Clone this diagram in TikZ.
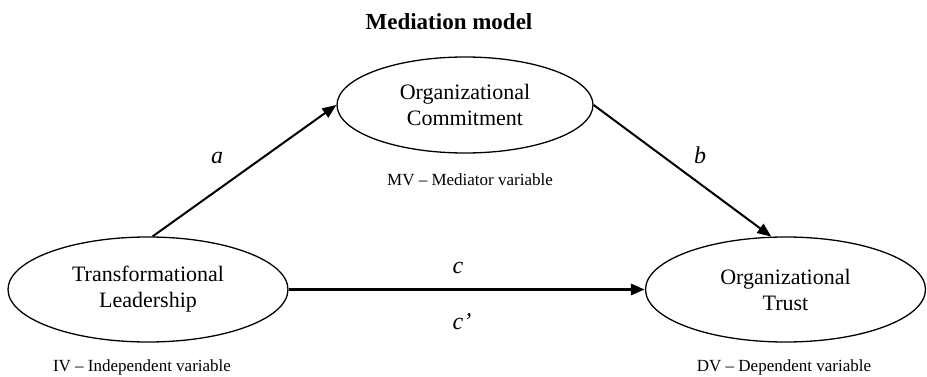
\documentclass[tikz,border=0pt]{standalone}
\usepackage{fontspec}
\setmainfont{Liberation Serif}
\usetikzlibrary{shapes.geometric,arrows.meta}
\begin{document}
\begin{tikzpicture}[x=1pt,y=-1pt,
  var/.style={ellipse,draw,line width=1.3pt,inner sep=0pt,align=center,
    font=\fontsize{22}{26}\selectfont},
  lab/.style={font=\fontsize{24}{28}\selectfont\itshape,inner sep=0pt},
  note/.style={font=\fontsize{17}{20}\selectfont,inner sep=0pt},
  arr/.style={-{Triangle[length=14pt,width=11pt]},line width=2pt}]
\useasboundingbox (0,0) rectangle (927,377);
\node[font=\fontsize{23}{27}\selectfont\bfseries,inner sep=0pt] (title) at (449,22) {Mediation model};
\node[var,minimum width=256pt,minimum height=96pt] (MC) at (465,105) {Organizational\\Commitment};
\node[var,minimum width=280pt,minimum height=105pt] (TL) at (148,289.5) {Transformational\\Leadership};
\node[var,minimum width=280pt,minimum height=105pt] (OT) at (785.5,289.5) {Organizational\\Trust};
\node[note] (mv) at (470,180) {MV -- Mediator variable};
\node[note] (iv) at (142,367) {IV -- Independent variable};
\node[note] (dv) at (784,367) {DV -- Dependent variable};
\draw[arr] (TL.85) -- (MC.west);
\draw[arr] (MC.east) -- (OT.105);
\draw[arr,line width=3pt] (TL.east) -- (OT.west);
\node[lab] (la) at (217,158) {a};
\node[lab] (lb) at (700,155) {b};
\node[lab] (lc) at (458,268) {c};
\node[lab] (lcp) at (462,322) {c’};
\end{tikzpicture}
\end{document}
